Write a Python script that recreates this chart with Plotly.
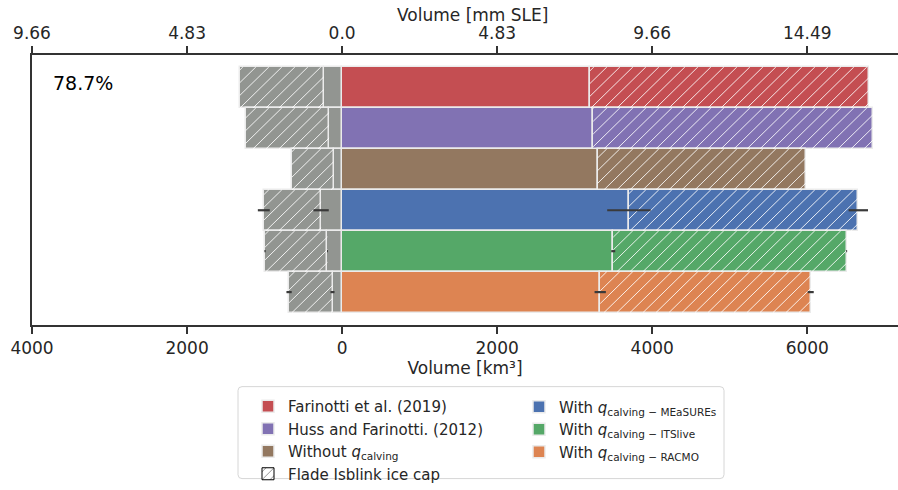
import math
import plotly.graph_objects as go

# ---------------- data (km^3) ----------------
rows = ["Farinotti et al. (2019)", "Huss and Farinotti. (2012)", "Without q_calving",
        "With q_calving MEaSUREs", "With q_calving ITSlive", "With q_calving RACMO"]
legend_names = ["Farinotti et al. (2019)", "Huss and Farinotti. (2012)",
                "Without <i>q</i><sub>calving</sub>",
                "With <i>q</i><sub>calving − MEaSUREs</sub>",
                "With <i>q</i><sub>calving − ITSlive</sub>",
                "With <i>q</i><sub>calving − RACMO</sub>"]
colors = ["#C44E52", "#8172B3", "#937860", "#4C72B0", "#55A868", "#DD8452"]
legend_group = ["legend", "legend", "legend", "legend2", "legend2", "legend2"]

# volume excluding Flade Isblink (solid) and Flade Isblink part (hatched)
vol_main = [3196, 3239, 3295, 3699, 3497, 3329]
vol_flade = [3604, 3613, 2688, 2959, 3011, 2715]
# volume below sea level (grey, drawn to the left)
bsl_main = [236, 168, 111, 271, 189, 124]
bsl_flade = [1084, 1078, 538, 739, 805, 560]

# uncertainties
err_main = [None, None, None, 280, 26, 73]
err_total = [None, None, None, 125, 6, 39]
err_bsl_main = [None, None, None, 99, 6, 26]
err_bsl_total = [None, None, None, 77, 8, 34]

vol_ticks = [-4000, -2000, 0, 2000, 4000, 6000]
km3_labels = ["4000", "2000", "0", "2000", "4000", "6000"]
sle_labels = ["9.66", "4.83", "0.0", "4.83", "9.66", "14.49"]
pct_text = "78.7%"

GREY = "#929591"
EDGE = "#ebebeb"
FONT = "DejaVu Sans"
TXT = "#262626"

# ---------------- geometry ----------------
L, R, T, B = 32, 0, 55, 159
W, H = 898, 490
PW, PH = W - L - R, H - T - B
XR = [-4000, 7170]
YR = [5.804, -0.794]          # reversed row axis
def px_x(p):
    return (p - L) / PW
def px_y(p):
    return (H - B - p) / PH

ypos = list(range(len(rows)))

# hatch ("/") lines for a bar segment, built from the segment's data extent
HSP = 13.0                              # hatch spacing in px
xu = (XR[1] - XR[0]) / PW               # data units per px (x)
yu = (YR[0] - YR[1]) / PH               # row units per px (y)
def hatch_xy(x_lo, x_hi, yc, width=1.0):
    ua, ub = (x_lo - XR[0]) / xu, (x_hi - XR[0]) / xu
    h = width / yu
    xs, ys = [], []
    c = math.floor((ua - h) / HSP) * HSP
    while c < ub:
        v0, v1 = max(0.0, ua - c), min(h, ub - c)
        if v1 > v0:
            for v in (v0, v1):
                xs.append(XR[0] + (c + v) * xu)
                ys.append(yc + width / 2 - v * yu)
            xs.append(None)
            ys.append(None)
        c += HSP
    return xs, ys

fig = go.Figure()

# solid positive bars (one per row, carrying the legend entry)
for i in range(len(rows)):
    fig.add_trace(go.Bar(
        x=[vol_main[i]], y=[ypos[i]], orientation="h", name=legend_names[i],
        marker=dict(color=colors[i], line=dict(color=EDGE, width=1.5)),
        legend=legend_group[i], showlegend=True, hovertext=[rows[i]], hoverinfo="x+text"))

# Flade Isblink part (positive), one trace per row
for i in range(len(rows)):
    fig.add_trace(go.Bar(
        x=[vol_flade[i]], y=[ypos[i]], orientation="h", showlegend=False,
        marker=dict(color=colors[i], line=dict(color=EDGE, width=1.5)),
        hovertext=[rows[i]], hoverinfo="x+text"))

# grey negative bars (below sea level)
fig.add_trace(go.Bar(
    x=[-v for v in bsl_main], y=ypos, orientation="h", showlegend=False,
    marker=dict(color=GREY, line=dict(color=EDGE, width=1.5))))
fig.add_trace(go.Bar(
    x=[-v for v in bsl_flade], y=ypos, orientation="h", showlegend=False,
    marker=dict(color=GREY, line=dict(color=EDGE, width=1.5))))

# hatch lines over the Flade Isblink segments
hx, hy = [], []
for i in range(len(rows)):
    for lo, hi in [(vol_main[i], vol_main[i] + vol_flade[i]),
                   (-(bsl_main[i] + bsl_flade[i]), -bsl_main[i])]:
        a, b = hatch_xy(lo, hi, ypos[i])
        hx += a
        hy += b
fig.add_trace(go.Scatter(x=hx, y=hy, mode="lines", showlegend=False, hoverinfo="skip",
                         line=dict(color="rgba(255,255,255,0.85)", width=1)))

# legend-only entry for the hatch
fig.add_trace(go.Bar(
    x=[None], y=[0], orientation="h", name="Flade Isblink ice cap", legend="legend",
    marker=dict(color="white", line=dict(color="black", width=1),
                pattern=dict(shape="/", fgcolor="black", size=7, solidity=0.15))))

# error bars
tot = [a + b for a, b in zip(vol_main, vol_flade)]
bsl_tot = [a + b for a, b in zip(bsl_main, bsl_flade)]
for pos, err in [(vol_main, err_main), (tot, err_total),
                 ([-v for v in bsl_main], err_bsl_main), ([-v for v in bsl_tot], err_bsl_total)]:
    xs = [p if e is not None else None for p, e in zip(pos, err)]
    es = [e if e is not None else 0 for e in err]
    fig.add_trace(go.Scatter(
        x=xs, y=ypos, mode="markers", showlegend=False, hoverinfo="skip",
        marker=dict(size=1, opacity=0),
        error_x=dict(type="data", array=es, visible=True, width=0, thickness=2.2, color="#3a3a3a")))

# dummy trace for top axis
fig.add_trace(go.Scatter(x=[None], y=[0], xaxis="x2", showlegend=False, hoverinfo="skip"))

axis_common = dict(showline=True, linecolor="#333333", linewidth=1.5, ticks="outside",
                   ticklen=7, tickwidth=1.5, tickcolor="#333333", showgrid=False, zeroline=False,
                   tickfont=dict(family=FONT, size=17, color=TXT))

fig.update_layout(
    width=W, height=H, margin=dict(l=L, r=R, t=T, b=B),
    paper_bgcolor="white", plot_bgcolor="white",
    barmode="relative", bargap=0,
    xaxis=dict(range=XR, tickvals=vol_ticks, ticktext=km3_labels,
               title=dict(text="Volume [km³]", font=dict(family=FONT, size=17, color=TXT), standoff=4),
               **axis_common),
    xaxis2=dict(overlaying="x", side="top", matches="x", tickvals=vol_ticks, ticktext=sle_labels,
                **axis_common),
    yaxis=dict(range=YR, autorange=False, showline=True, linecolor="#333333", linewidth=1.5,
               showticklabels=False, ticks="", showgrid=False, zeroline=False),
    legend=dict(x=px_x(248), y=px_y(398), xanchor="left", yanchor="top",
                bgcolor="rgba(0,0,0,0)", borderwidth=0, traceorder="normal",
                font=dict(family=FONT, size=15, color=TXT)),
    legend2=dict(x=px_x(519), y=px_y(398), xanchor="left", yanchor="top",
                 bgcolor="rgba(0,0,0,0)", borderwidth=0, traceorder="normal",
                 font=dict(family=FONT, size=15, color=TXT)),
    showlegend=True,
)

# top axis title
fig.add_annotation(text="Volume [mm SLE]", xref="x", yref="paper", x=0, xanchor="left",
                   y=px_y(14), yanchor="middle", showarrow=False,
                   xshift=(395 - 342), font=dict(family=FONT, size=17, color=TXT))

# legend frame
x0, x1, y0, y1 = px_x(238), px_x(724), px_y(488), px_y(394)
rx, ry = 4 / PW, 4 / PH
path = (f"M{x0+rx},{y1} L{x1-rx},{y1} Q{x1},{y1} {x1},{y1-ry} L{x1},{y0+ry} Q{x1},{y0} {x1-rx},{y0} "
        f"L{x0+rx},{y0} Q{x0},{y0} {x0},{y0+ry} L{x0},{y1-ry} Q{x0},{y1} {x0+rx},{y1} Z")
fig.add_shape(type="path", path=path, xref="paper", yref="paper",
              line=dict(color="#d6d6d6", width=1), fillcolor="rgba(255,255,255,0.8)", layer="below")

fig.add_annotation(text=pct_text, xref="paper", yref="paper", x=px_x(51), y=px_y(84),
                   xanchor="left", yanchor="middle", showarrow=False,
                   font=dict(family=FONT, size=19, color="black"))

fig.write_html("out.html")
